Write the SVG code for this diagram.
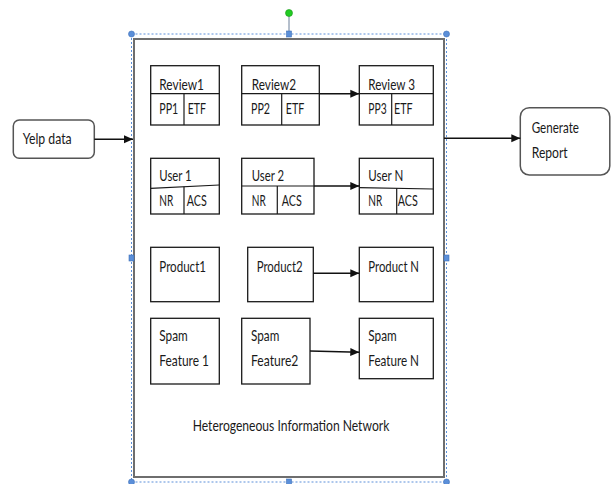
<svg xmlns="http://www.w3.org/2000/svg" width="611" height="484" viewBox="0 0 611 484">
  <style>
    .box { fill: #ffffff; stroke: #1a1a1a; stroke-width: 1.3; }
    .div { fill: none; stroke: #1a1a1a; stroke-width: 1.2; }
    .term { fill: #ffffff; stroke: #555555; stroke-width: 1.5; }
    .frame { fill: #ffffff; stroke: #6e6e6e; stroke-width: 2; }
    .sel { fill: none; stroke: #5b8fd9; stroke-width: 1; stroke-dasharray: 2 2; }
    .handle { fill: #5b8fd9; stroke: #3f70b8; stroke-width: 0.6; }
    .lbl { font-family: Lato, "Liberation Sans", sans-serif; font-size: 15px; fill: #1a1a1a; }
    .edge { fill: none; stroke: #111111; stroke-width: 1.4; marker-end: url(#arrow); }
  </style>
  <defs>
    <marker id="arrow" markerUnits="userSpaceOnUse" markerWidth="10" markerHeight="10" viewBox="0 0 10 10" refX="9" refY="5" orient="auto">
      <path d="M0,1 L9,5 L0,9 Z" fill="#111111"/>
    </marker>
  </defs>

  <!-- Container: heterogeneous information network -->
  <g id="hin">
    <rect class="frame" x="134" y="39" width="310" height="438"/>
    <text class="lbl" x="192.7" y="431" textLength="196.6" lengthAdjust="spacingAndGlyphs">Heterogeneous Information Network</text>
  </g>

  <!-- Selection frame and handles -->
  <g id="selection">
    <rect class="sel" x="131.5" y="34" width="315" height="448"/>
    <line x1="289" y1="16" x2="289" y2="34" stroke="#6b7f99" stroke-width="1"/>
    <circle cx="289" cy="13" r="3.5" fill="#22cc22" stroke="#189918" stroke-width="0.6"/>
    <circle class="handle" cx="131.5" cy="34" r="3"/>
    <circle class="handle" cx="446.5" cy="34" r="3"/>
    <circle class="handle" cx="131.5" cy="482" r="3"/>
    <circle class="handle" cx="446.5" cy="482" r="3"/>
    <rect class="handle" x="286.5" y="31" width="5" height="6"/>
    <rect class="handle" x="286.5" y="479" width="5" height="6"/>
    <rect class="handle" x="129" y="255" width="5" height="6"/>
    <rect class="handle" x="444" y="255" width="5" height="6"/>
  </g>

  <!-- Input / output terminals -->
  <g id="yelp-data">
    <rect class="term" x="13.3" y="120" width="81" height="38.3" rx="6"/>
    <text class="lbl" x="22.7" y="144.3" textLength="49" lengthAdjust="spacingAndGlyphs">Yelp data</text>
  </g>
  <g id="generate-report">
    <rect class="term" x="520.3" y="107.7" width="89.5" height="67.3" rx="9"/>
    <text class="lbl" x="531.7" y="133.3" textLength="47.3" lengthAdjust="spacingAndGlyphs">Generate</text>
    <text class="lbl" x="531.7" y="157.7" textLength="36" lengthAdjust="spacingAndGlyphs">Report</text>
  </g>

  <!-- Review row -->
  <g id="review1">
    <rect class="box" x="150.7" y="65.7" width="68.6" height="59.3"/>
    <line class="div" x1="150.7" y1="93.7" x2="219.3" y2="93.7"/>
    <line class="div" x1="184" y1="93.7" x2="184" y2="125"/>
    <text class="lbl" x="159.3" y="90" textLength="44.7" lengthAdjust="spacingAndGlyphs">Review1</text>
    <text class="lbl" x="159.3" y="114.3" textLength="19" lengthAdjust="spacingAndGlyphs">PP1</text>
    <text class="lbl" x="187.7" y="114.3" textLength="18.3" lengthAdjust="spacingAndGlyphs">ETF</text>
  </g>
  <g id="review2">
    <rect class="box" x="241.7" y="65.7" width="77.6" height="59.3"/>
    <line class="div" x1="241.7" y1="93.7" x2="319.3" y2="93.7"/>
    <line class="div" x1="281.7" y1="93.7" x2="281.7" y2="125"/>
    <text class="lbl" x="251.7" y="90" textLength="44.3" lengthAdjust="spacingAndGlyphs">Review2</text>
    <text class="lbl" x="251" y="114.3" textLength="19" lengthAdjust="spacingAndGlyphs">PP2</text>
    <text class="lbl" x="285.7" y="114.3" textLength="18.6" lengthAdjust="spacingAndGlyphs">ETF</text>
  </g>
  <g id="review3">
    <rect class="box" x="359.3" y="65.7" width="74" height="59.3"/>
    <line class="div" x1="359.3" y1="93.7" x2="433.3" y2="93.7"/>
    <line class="div" x1="391.7" y1="93.7" x2="391.7" y2="125"/>
    <text class="lbl" x="368.3" y="90" textLength="46.7" lengthAdjust="spacingAndGlyphs">Review 3</text>
    <text class="lbl" x="368.3" y="114.3" textLength="18.4" lengthAdjust="spacingAndGlyphs">PP3</text>
    <text class="lbl" x="394" y="114.3" textLength="18.7" lengthAdjust="spacingAndGlyphs">ETF</text>
  </g>

  <!-- User row -->
  <g id="user1">
    <rect class="box" x="150.7" y="158.3" width="68.6" height="55.7"/>
    <line class="div" x1="150.7" y1="188.3" x2="219.3" y2="185"/>
    <line class="div" x1="184" y1="186.7" x2="184" y2="214"/>
    <text class="lbl" x="159.3" y="180.7" textLength="32.4" lengthAdjust="spacingAndGlyphs">User 1</text>
    <text class="lbl" x="159.3" y="205.7" textLength="14" lengthAdjust="spacingAndGlyphs">NR</text>
    <text class="lbl" x="186.7" y="205.7" textLength="20" lengthAdjust="spacingAndGlyphs">ACS</text>
  </g>
  <g id="user2">
    <rect class="box" x="241.7" y="158.3" width="72.3" height="55.7"/>
    <line class="div" x1="241.7" y1="186" x2="314" y2="186"/>
    <line class="div" x1="277.3" y1="186" x2="277.3" y2="214"/>
    <text class="lbl" x="251.7" y="180.7" textLength="32.3" lengthAdjust="spacingAndGlyphs">User 2</text>
    <text class="lbl" x="251.7" y="205.7" textLength="14" lengthAdjust="spacingAndGlyphs">NR</text>
    <text class="lbl" x="281.7" y="205.7" textLength="20" lengthAdjust="spacingAndGlyphs">ACS</text>
  </g>
  <g id="userN">
    <rect class="box" x="359.3" y="158.3" width="74" height="55.7"/>
    <line class="div" x1="359.3" y1="187.7" x2="433.3" y2="189"/>
    <line class="div" x1="396.7" y1="188.3" x2="396.7" y2="214"/>
    <text class="lbl" x="368.3" y="180.7" textLength="35" lengthAdjust="spacingAndGlyphs">User N</text>
    <text class="lbl" x="368.3" y="205.7" textLength="14" lengthAdjust="spacingAndGlyphs">NR</text>
    <text class="lbl" x="397.7" y="205.7" textLength="20" lengthAdjust="spacingAndGlyphs">ACS</text>
  </g>

  <!-- Product row -->
  <g id="product1">
    <rect class="box" x="150.7" y="247.3" width="68.6" height="54.4"/>
    <text class="lbl" x="159.3" y="271.7" textLength="46.7" lengthAdjust="spacingAndGlyphs">Product1</text>
  </g>
  <g id="product2">
    <rect class="box" x="247.7" y="247.3" width="65.6" height="54.4"/>
    <text class="lbl" x="256.7" y="271.7" textLength="46" lengthAdjust="spacingAndGlyphs">Product2</text>
  </g>
  <g id="productN">
    <rect class="box" x="359.3" y="247.3" width="74" height="54.4"/>
    <text class="lbl" x="368.3" y="271.7" textLength="50.7" lengthAdjust="spacingAndGlyphs">Product N</text>
  </g>

  <!-- Spam feature row -->
  <g id="spam1">
    <rect class="box" x="150.7" y="318.3" width="68.6" height="65.7"/>
    <text class="lbl" x="159.3" y="340.7" textLength="28.4" lengthAdjust="spacingAndGlyphs">Spam</text>
    <text class="lbl" x="159.3" y="365.7" textLength="49.7" lengthAdjust="spacingAndGlyphs">Feature 1</text>
  </g>
  <g id="spam2">
    <rect class="box" x="241.7" y="318.3" width="68.3" height="65.7"/>
    <text class="lbl" x="251" y="340.7" textLength="28.3" lengthAdjust="spacingAndGlyphs">Spam</text>
    <text class="lbl" x="251" y="365.7" textLength="47.3" lengthAdjust="spacingAndGlyphs">Feature2</text>
  </g>
  <g id="spamN">
    <rect class="box" x="359.3" y="318.3" width="74" height="60.4"/>
    <text class="lbl" x="368.3" y="340.7" textLength="28.4" lengthAdjust="spacingAndGlyphs">Spam</text>
    <text class="lbl" x="368.3" y="365.7" textLength="50.7" lengthAdjust="spacingAndGlyphs">Feature N</text>
  </g>

  <!-- Connectors -->
  <g id="connectors">
    <line class="edge" x1="94.3" y1="139.3" x2="133" y2="139.3"/>
    <line class="edge" x1="444" y1="138.3" x2="520.3" y2="138.3"/>
    <line class="edge" x1="319.3" y1="93.7" x2="359.3" y2="93.7"/>
    <line class="edge" x1="314" y1="186" x2="359.3" y2="186"/>
    <line class="edge" x1="313.3" y1="273.3" x2="359.3" y2="273.3"/>
    <line class="edge" x1="310" y1="351" x2="359.3" y2="352.3"/>
  </g>
</svg>
